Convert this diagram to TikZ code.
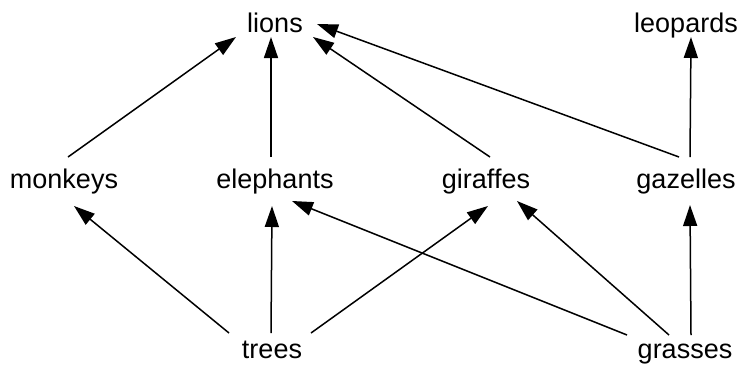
\documentclass[tikz,border=0pt]{standalone}
\usepackage{fontspec}
\setmainfont{Liberation Sans}
\usetikzlibrary{arrows.meta}
\begin{document}
\begin{tikzpicture}[x=1pt,y=-1pt,
  lbl/.style={anchor=base,inner sep=0pt,font=\fontsize{27}{30}\selectfont},
  arr/.style={line width=1.5pt,-{Triangle[length=21pt,width=14pt]}}]
\useasboundingbox (0,0) rectangle (741,365);
\node[lbl] (lions) at (275,32) {lions};
\node[lbl] (leopards) at (686,32) {leopards};
\node[lbl] (monkeys) at (64,188) {monkeys};
\node[lbl] (elephants) at (275,188) {elephants};
\node[lbl] (giraffes) at (486,188) {giraffes};
\node[lbl] (gazelles) at (686,188) {gazelles};
\node[lbl] (trees) at (272,358) {trees};
\node[lbl] (grasses) at (685,358) {grasses};
% to lions
\draw[arr] ([shift={(4,-31)}]monkeys.base) -- ([shift={(-39,5)}]lions.base);
\draw[arr] ([shift={(-4,-31)}]elephants.base) -- ([shift={(-4,5)}]lions.base);
\draw[arr] ([shift={(4,-31)}]giraffes.base) -- ([shift={(38,5)}]lions.base);
\draw[arr] ([shift={(-7,-31)}]gazelles.base) -- ([shift={(42,-8)}]lions.base);
% to leopards
\draw[arr] ([shift={(4,-31)}]gazelles.base) -- ([shift={(5,5)}]leopards.base);
% from trees
\draw[arr] ([shift={(-43,-25)}]trees.base) -- ([shift={(10,18)}]monkeys.base);
\draw[arr] ([shift={(-1,-25)}]trees.base) -- ([shift={(-3,18)}]elephants.base);
\draw[arr] ([shift={(39,-25)}]trees.base) -- ([shift={(2,18)}]giraffes.base);
% from grasses
\draw[arr] ([shift={(-58,-23)}]grasses.base) -- ([shift={(17,13)}]elephants.base);
\draw[arr] ([shift={(-16,-23)}]grasses.base) -- ([shift={(31,13)}]giraffes.base);
\draw[arr] ([shift={(6,-23)}]grasses.base) -- ([shift={(4,17)}]gazelles.base);
\end{tikzpicture}
\end{document}
